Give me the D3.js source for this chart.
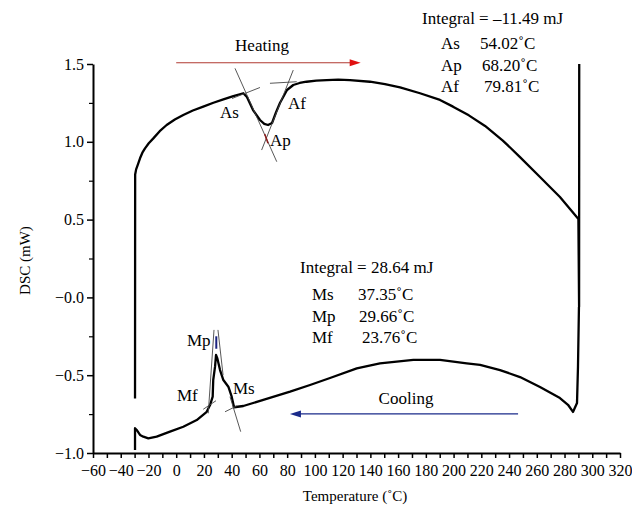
<!DOCTYPE html>
<html>
<head>
<meta charset="utf-8">
<script src="https://cdn.jsdelivr.net/npm/d3@7"></script>
<style>
  body { margin: 0; background: #fff; }
  svg { display: block; font-family: "Liberation Serif", "Times New Roman", serif; }
  .axis path, .axis line { stroke: #000; }
  .axis text { font-size: 16px; fill: #000; font-family: "Liberation Serif", serif; }
  .note { font-size: 17px; fill: #000; }
</style>
</head>
<body>
<svg id="dsc" width="632" height="512"></svg>
<script>
// heating run (top curve)
const heatTemp = [-29.7, -29.6, -28.9, -27.6, -26.1, -24.4, -22.5, -19.8, -16.5, -11.9, -6.9, -1.0, 5.1, 12.0, 19.5, 26.8, 34.0, 41.2, 48.4, 51.0, 55.4, 60.4, 63.5, 66.2, 69.1, 72.0, 74.8, 79.9, 84.4, 89.0, 94.0, 101.0, 108.5, 116.8, 125.3, 139.7, 150.5, 161.4, 175.8, 190.2, 199.6, 211.0, 222.7, 235.5, 247.9, 262.3, 276.7, 290.0, 290.5, 290.6];
const heatDsc = [-0.65, 0.79, 0.823, 0.855, 0.894, 0.930, 0.958, 0.991, 1.022, 1.068, 1.108, 1.143, 1.172, 1.201, 1.226, 1.251, 1.273, 1.294, 1.312, 1.288, 1.204, 1.140, 1.115, 1.108, 1.121, 1.19, 1.249, 1.333, 1.365, 1.378, 1.386, 1.393, 1.397, 1.399, 1.397, 1.386, 1.370, 1.350, 1.312, 1.269, 1.226, 1.170, 1.102, 1.008, 0.902, 0.774, 0.645, 0.504, -0.06, 1.5];

// cooling run (bottom curve)
const coolTemp = [-29.7, -29.7, -28.5, -26.1, -23.7, -20.1, -14.1, -4.5, 5.1, 14.8, 22.0, 24.4, 26.3, 26.7, 28.0, 28.7, 29.6, 31.6, 34.0, 37.6, 40.0, 41.7, 48.4, 62.8, 82.1, 96.5, 110.9, 130.2, 146.9, 171.0, 190.2, 209.5, 219.1, 233.5, 247.9, 262.3, 276.7, 282.5, 286.1, 289.0, 289.7, 290.4];
const coolDsc = [-0.981, -0.841, -0.852, -0.884, -0.895, -0.906, -0.895, -0.863, -0.831, -0.788, -0.735, -0.692, -0.638, -0.531, -0.445, -0.37, -0.39, -0.467, -0.531, -0.574, -0.638, -0.706, -0.698, -0.659, -0.606, -0.563, -0.518, -0.456, -0.424, -0.402, -0.402, -0.424, -0.434, -0.467, -0.512, -0.576, -0.647, -0.690, -0.736, -0.679, -0.447, -0.062];

// tangent constructions [t1, v1, t2, v2]
const heatTangents = [
    [40.2, 1.278, 60.4, 1.349],
    [42.4, 1.472, 72.5, 0.872],
    [84.4, 1.461, 61.6, 0.947],
    [67.6, 1.376, 86.9, 1.386]
];
const coolTangents = [
    [27.25, -0.209, 23.1, -0.745],
    [30.1, -0.209, 33.8, -0.50],
    [35.2, -0.735, 43.6, -0.698],
    [38.8, -0.638, 46.5, -0.863],
    [19.5, -0.719, 28.7, -0.664]
];

const xTicks = d3.range(-60, 321, 20);
const xMinorTicks = d3.range(-50, 321, 20);
const yTicks = [-1.0, -0.5, 0, 0.5, 1.0, 1.5];
const yTickLabels = ['\u22121.0', '\u22120.5', '\u22120.0', '0.5', '1.0', '1.5'];
const yMinorTicks = [-0.75, -0.25, 0.25, 0.75, 1.25];

const heatNotes = ['Integral = \u201311.49 mJ', 'As', '54.02\u02daC', 'Ap', '68.20\u02daC', 'Af', '79.81\u02daC'];
const coolNotes = ['Integral = 28.64 mJ', 'Ms', '37.35\u02daC', 'Mp', '29.66\u02daC', 'Mf', '23.76\u02daC'];

const svg = d3.select('#dsc');
const margin = {top: 64, right: 12, bottom: 59, left: 93};
const width = +svg.attr('width');
const height = +svg.attr('height');

const x = d3.scaleLinear().domain([-60, 320]).range([margin.left, width - margin.right]);
const y = d3.scaleLinear().domain([-1.0, 1.5]).range([height - margin.bottom, margin.top]);

svg.append('rect').attr('width', width).attr('height', height).attr('fill', '#fff');

// axes
const yAxisG = svg.append('g').attr('class', 'axis')
    .attr('transform', `translate(${margin.left},0)`)
    .call(d3.axisLeft(y).tickValues(yTicks).tickFormat((d, i) => yTickLabels[i])
        .tickSize(6).tickPadding(3).tickSizeOuter(0));
yAxisG.select('.domain').attr('stroke-width', 2);
yAxisG.selectAll('line').attr('stroke-width', 1.5);
svg.append('g').attr('class', 'axis')
    .attr('transform', `translate(${margin.left},0)`)
    .call(d3.axisLeft(y).tickValues(yMinorTicks).tickFormat('').tickSize(4).tickSizeOuter(0))
    .call(g => g.select('.domain').remove())
    .selectAll('line').attr('stroke-width', 1.2);

const xFmt = d => d < 0 ? '\u2212' + Math.abs(d) : d;
const xAxisG = svg.append('g').attr('class', 'axis')
    .attr('transform', `translate(0,${y(-1.0)})`)
    .call(d3.axisBottom(x).tickValues(xTicks).tickFormat(xFmt)
        .tickSize(5).tickPadding(7).tickSizeOuter(0));
xAxisG.select('.domain').attr('stroke-width', 2);
xAxisG.selectAll('line').attr('stroke-width', 1.5);
svg.append('g').attr('class', 'axis')
    .attr('transform', `translate(0,${y(-1.0)})`)
    .call(d3.axisBottom(x).tickValues(xMinorTicks).tickFormat('').tickSize(5).tickSizeOuter(0))
    .call(g => g.select('.domain').remove())
    .selectAll('line').attr('stroke-width', 1.5);

svg.append('text')
    .attr('transform', `translate(30,${(y(1.5) + y(-1.0)) / 2 + 2}) rotate(-90)`)
    .attr('text-anchor', 'middle')
    .attr('font-size', 15)
    .text('DSC (mW)');

svg.append('text')
    .attr('x', 355).attr('y', 501)
    .attr('text-anchor', 'middle')
    .attr('font-size', 15)
    .text('Temperature (\u02daC)');

// curves
const line = d3.line().x(d => x(d[0])).y(d => y(d[1]));
const heat = heatTemp.map((t, i) => [t, heatDsc[i]]);
const cool = coolTemp.map((t, i) => [t, coolDsc[i]]);

svg.append('path').datum(heat)
    .attr('d', line).attr('fill', 'none')
    .attr('stroke', '#000').attr('stroke-width', 2.3).attr('stroke-linejoin', 'round');
svg.append('path').datum(cool)
    .attr('d', line).attr('fill', 'none')
    .attr('stroke', '#000').attr('stroke-width', 2.3).attr('stroke-linejoin', 'round');

// tangents
svg.append('g').selectAll('line').data(heatTangents.concat(coolTangents))
    .enter().append('line')
        .attr('x1', d => x(d[0])).attr('y1', d => y(d[1]))
        .attr('x2', d => x(d[2])).attr('y2', d => y(d[3]))
        .attr('stroke', '#444').attr('stroke-width', 0.9);

// Ap crossing mark and Mp peak mark
svg.append('line')
    .attr('x1', x(63.8)).attr('y1', y(1.05)).attr('x2', x(66.2)).attr('y2', y(0.99))
    .attr('stroke', '#8b1a1a').attr('stroke-width', 1.5);
svg.append('line')
    .attr('x1', x(28.9)).attr('y1', y(-0.25)).attr('x2', x(28.9)).attr('y2', y(-0.33))
    .attr('stroke', '#1a237e').attr('stroke-width', 2);

// heating arrow
const hx1 = x(0), hx2 = x(133), hy = y(1.508);
svg.append('line')
    .attr('x1', hx1).attr('y1', hy).attr('x2', hx2 - 8).attr('y2', hy)
    .attr('stroke', '#b03a32').attr('stroke-width', 1.2);
svg.append('path')
    .attr('d', `M${hx2},${hy} L${hx2 - 11},${hy - 3.5} L${hx2 - 11},${hy + 3.5} Z`)
    .attr('fill', '#e01010');

// cooling arrow
const cx1 = x(82), cx2 = x(246.5), cy = y(-0.749);
svg.append('line')
    .attr('x1', cx1 + 8).attr('y1', cy).attr('x2', cx2).attr('y2', cy)
    .attr('stroke', '#1a2a8a').attr('stroke-width', 1.2);
svg.append('path')
    .attr('d', `M${cx1},${cy} L${cx1 + 11},${cy - 3.5} L${cx1 + 11},${cy + 3.5} Z`)
    .attr('fill', '#1a2a8a');

// texts
const note = (tx, ty, s, anchor) => svg.append('text')
    .attr('class', 'note').attr('x', tx).attr('y', ty)
    .attr('text-anchor', anchor || 'start').text(s);

note(262, 51, 'Heating', 'middle');
note(406, 404, 'Cooling', 'middle');

note(422, 24, heatNotes[0]);
note(441, 49, heatNotes[1]); note(480, 49, heatNotes[2]);
note(441, 71, heatNotes[3]); note(482, 71, heatNotes[4]);
note(441, 92, heatNotes[5]); note(484, 92, heatNotes[6]);

note(300, 273, coolNotes[0]);
note(312, 300, coolNotes[1]); note(358, 300, coolNotes[2]);
note(312, 322, coolNotes[3]); note(359, 322, coolNotes[4]);
note(312, 343, coolNotes[5]); note(362, 343, coolNotes[6]);

note(220, 118, 'As');
note(270, 146, 'Ap');
note(288, 109, 'Af');
note(187, 346, 'Mp');
note(233, 394, 'Ms');
note(177, 401, 'Mf');
</script>
</body>
</html>
